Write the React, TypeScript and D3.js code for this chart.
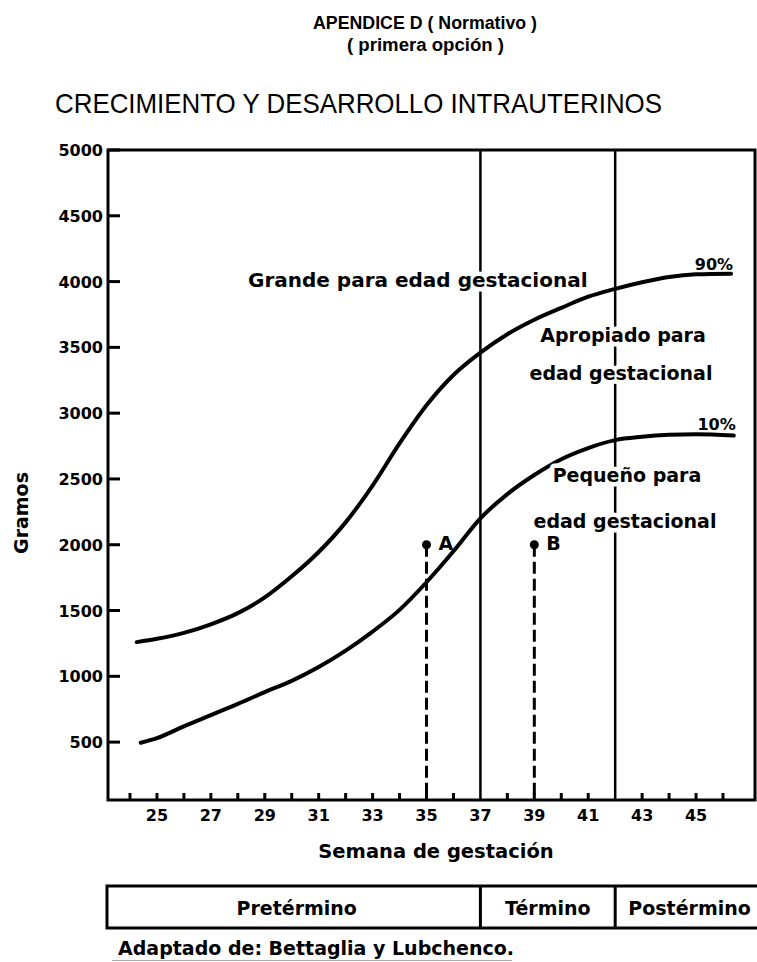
import React from 'react';
import * as d3 from 'd3';

// percentile curves (week, grams)
const weeks90 = [24.25, 25, 26, 27, 28, 29, 30, 31, 32, 33, 34, 35, 36, 37, 38, 39, 40, 41, 42, 43, 44, 45, 46.3];
const grams90 = [1260, 1285, 1330, 1395, 1480, 1600, 1760, 1945, 2170, 2450, 2770, 3060, 3290, 3460, 3600, 3710, 3800, 3885, 3945, 3995, 4035, 4055, 4060];

const weeks10 = [24.4, 25, 26, 27, 28, 29, 30, 31, 32, 33, 34, 35, 36, 37, 38, 39, 40, 41, 42, 43, 44, 45, 46.4];
const grams10 = [495, 530, 620, 705, 790, 880, 965, 1070, 1195, 1340, 1505, 1715, 1950, 2200, 2385, 2530, 2650, 2735, 2795, 2820, 2835, 2840, 2830];

const xTickWeeks = d3.range(24, 47);
const xLabelWeeks = [25, 27, 29, 31, 33, 35, 37, 39, 41, 43, 45];
const yTickValues = [500, 1000, 1500, 2000, 2500, 3000, 3500, 4000, 4500, 5000];

const termBoundaries = [37, 42];
const periodLabels = ['Pretérmino', 'Término', 'Postérmino'];

const caseLabels = ['A', 'B'];
const caseWeeks = [35, 39];
const caseGrams = [2000, 2000];

const LABEL_FONT = '"DejaVu Sans", Verdana, sans-serif';
const TITLE_FONT = '"Liberation Sans Narrow", "Liberation Sans", Arial, sans-serif';

const W = 757;
const H = 962;
const plot = { left: 108, right: 755, top: 150, bottom: 800 };
const box = { left: 107, right: 764, top: 886, bottom: 928 };

export default function App()
{
    const x = d3.scaleLinear().domain([24, 46]).range([130, 723]);
    const y = d3.scaleLinear().domain([60, 5000]).range([plot.bottom, plot.top]);

    const line = d3.line<[number, number]>()
        .x((d) => x(d[0]))
        .y((d) => y(d[1]))
        .curve(d3.curveMonotoneX);

    const p90 = line(weeks90.map((w, i) => [w, grams90[i]] as [number, number])) || '';
    const p10 = line(weeks10.map((w, i) => [w, grams10[i]] as [number, number])) || '';

    const end90 = [x(weeks90[weeks90.length - 1]), y(grams90[grams90.length - 1])];
    const end10 = [x(weeks10[weeks10.length - 1]), y(grams10[grams10.length - 1])];

    const boxEdges = [box.left, ...termBoundaries.map((t) => x(t)), box.right];

    const halo = { stroke: 'white', strokeWidth: 9, paintOrder: 'stroke' as const, strokeLinejoin: 'round' as const };
    const labelStyle = { fontFamily: LABEL_FONT, fontWeight: 700, fontSize: 19 };

    return (
        <svg width={ W } height={ H } style={ { position: 'absolute', left: 0, top: 0, background: 'white' } }>
            {/* titles */}
            <g fill="#000" fontFamily={ TITLE_FONT }>
                <text x={ 313 } y={ 29 } fontSize={ 18 } fontWeight={ 700 } textLength={ 224 } lengthAdjust="spacingAndGlyphs">APENDICE D ( Normativo )</text>
                <text x={ 347 } y={ 51 } fontSize={ 18 } fontWeight={ 700 } textLength={ 157 } lengthAdjust="spacingAndGlyphs">( primera opción )</text>
                <text x={ 55 } y={ 113 } fontSize={ 28 } textLength={ 607 } lengthAdjust="spacingAndGlyphs">CRECIMIENTO Y DESARROLLO INTRAUTERINOS</text>
            </g>

            {/* term boundaries */}
            { termBoundaries.map((t) => (
                <line key={ t } x1={ x(t) } x2={ x(t) } y1={ plot.top } y2={ plot.bottom } stroke="#000" strokeWidth={ 2.5 } />
            )) }

            {/* case markers */}
            { caseWeeks.map((w, i) => (
                <g key={ caseLabels[i] }>
                    <line x1={ x(w) } x2={ x(w) } y1={ y(caseGrams[i]) } y2={ plot.bottom } stroke="#000" strokeWidth={ 3 } strokeDasharray="12,5" />
                    <circle cx={ x(w) } cy={ y(caseGrams[i]) } r={ 4.5 } fill="#000" />
                </g>
            )) }

            {/* percentile curves */}
            <path d={ p90 } fill="none" stroke="#000" strokeWidth={ 4 } strokeLinecap="round" />
            <path d={ p10 } fill="none" stroke="#000" strokeWidth={ 4 } strokeLinecap="round" />

            {/* region labels */}
            <g { ...labelStyle } fill="#000">
                <text x={ 248 } y={ 287 } fontSize={ 20 } { ...halo }>Grande para edad gestacional</text>
                <text x={ 623 } y={ 342 } textAnchor="middle" { ...halo }>Apropiado para</text>
                <text x={ 621 } y={ 380 } textAnchor="middle" { ...halo }>edad gestacional</text>
                <text x={ 627 } y={ 482 } textAnchor="middle" { ...halo }>Pequeño para</text>
                <text x={ 625 } y={ 528 } textAnchor="middle" { ...halo }>edad gestacional</text>
                { caseWeeks.map((w, i) => (
                    <text key={ caseLabels[i] } x={ x(w) + 12 } y={ y(caseGrams[i]) + 5 }>{ caseLabels[i] }</text>
                )) }
            </g>
            <g fontFamily={ LABEL_FONT } fontWeight={ 700 } fontSize={ 16 } fill="#000" textAnchor="end">
                <text x={ end90[0] + 2 } y={ end90[1] - 4 }>90%</text>
                <text x={ end10[0] + 2 } y={ end10[1] - 6 }>10%</text>
            </g>

            {/* frame */}
            <rect x={ plot.left } y={ plot.top } width={ plot.right - plot.left } height={ plot.bottom - plot.top } fill="none" stroke="#000" strokeWidth={ 3 } />

            {/* y axis */}
            <g fontFamily={ LABEL_FONT } fontWeight={ 700 } fontSize={ 16 } fill="#000" textAnchor="end">
                { yTickValues.map((v) => (
                    <g key={ v }>
                        <line x1={ plot.left } x2={ plot.left + 12 } y1={ y(v) } y2={ y(v) } stroke="#000" strokeWidth={ 3 } />
                        <text x={ 103 } y={ y(v) + 6 }>{ v }</text>
                    </g>
                )) }
            </g>

            {/* x axis */}
            <g fontFamily={ LABEL_FONT } fontWeight={ 700 } fontSize={ 16 } fill="#000" textAnchor="middle">
                { xTickWeeks.filter((w) => !termBoundaries.includes(w)).map((w) => (
                    <line key={ w } x1={ x(w) } x2={ x(w) } y1={ plot.bottom } y2={ plot.bottom - 7 } stroke="#000" strokeWidth={ 3 } />
                )) }
                { xLabelWeeks.map((w) => (
                    <text key={ w } x={ x(w) } y={ 821 }>{ w }</text>
                )) }
            </g>

            <g { ...labelStyle } fill="#000">
                <text x={ 436 } y={ 858 } textAnchor="middle" fontSize={ 19.5 }>Semana de gestación</text>
                <text transform="translate(28,513) rotate(-90)" textAnchor="middle">Gramos</text>
            </g>

            {/* period box */}
            <rect x={ box.left } y={ box.top } width={ box.right - box.left } height={ box.bottom - box.top } fill="none" stroke="#000" strokeWidth={ 3 } />
            { termBoundaries.map((t) => (
                <line key={ t } x1={ x(t) } x2={ x(t) } y1={ box.top } y2={ box.bottom } stroke="#000" strokeWidth={ 3 } />
            )) }
            <g { ...labelStyle } fill="#000" textAnchor="middle">
                { periodLabels.map((p, i) => (
                    <text key={ p } x={ (boxEdges[i] + boxEdges[i + 1]) / 2 + (i === 0 ? 3 : 0) } y={ 915 }>{ p }</text>
                )) }
            </g>

            <text x={ 118 } y={ 955 } { ...labelStyle } fill="#000">Adaptado de: Bettaglia y Lubchenco.</text>
            <line x1={ 112 } x2={ 512 } y1={ 960.5 } y2={ 960.5 } stroke="#aaa" strokeWidth={ 1 } />
        </svg>
    );
}
